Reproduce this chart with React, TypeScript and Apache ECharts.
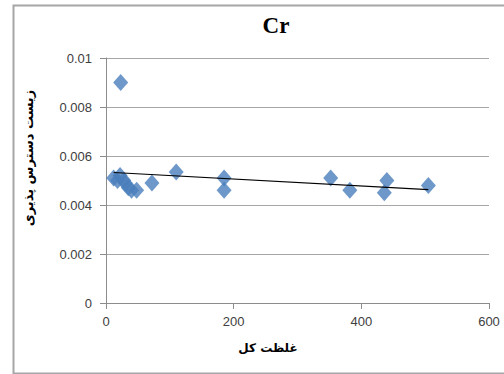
import React, { useEffect, useRef } from "react";
import * as echarts from "echarts";

const titleText = "Cr";
const xAxisName = "غلظت کل";
const yAxisName = "زیست دسترس پذیری";

const xValues = [12, 18, 22, 28, 30, 35, 40, 48, 72, 110, 185, 185, 352, 382, 436, 440, 505, 23];
const yValues = [0.0051, 0.0050, 0.0052, 0.0050, 0.0049, 0.0047, 0.0046, 0.0046, 0.0049, 0.00535, 0.0051, 0.0046, 0.0051, 0.0046, 0.0045, 0.0050, 0.0048, 0.0090];

const xTicks = [0, 200, 400, 600];
const yTicks = [0, 0.002, 0.004, 0.006, 0.008, 0.01];

function regression(xs: number[], ys: number[]) {
  const n = xs.length;
  const mx = xs.reduce((a, b) => a + b, 0) / n;
  const my = ys.reduce((a, b) => a + b, 0) / n;
  let sxy = 0;
  let sxx = 0;
  for (let i = 0; i < n; i++) {
    sxy += (xs[i] - mx) * (ys[i] - my);
    sxx += (xs[i] - mx) * (xs[i] - mx);
  }
  const slope = sxy / sxx;
  return { slope, intercept: my - slope * mx };
}

export default function App() {
  const ref = useRef<HTMLDivElement>(null);
  useEffect(() => {
    if (!ref.current) return;
    const chart = echarts.init(ref.current, null, { renderer: "svg" });
    const { slope, intercept } = regression(xValues, yValues);
    const xmin = Math.min(...xValues);
    const xmax = Math.max(...xValues);
    const trend = [
      [xmin, intercept + slope * xmin],
      [xmax, intercept + slope * xmax],
    ];
    chart.setOption({
      animation: false,
      backgroundColor: "#ffffff",
      title: {
        text: titleText,
        left: 271,
        top: 9,
        textAlign: "center",
        textStyle: { fontFamily: "Liberation Serif", fontWeight: "bold", fontSize: 23, color: "#000" },
      },
      graphic: [
        {
          type: "rect",
          left: 11,
          top: 3,
          shape: { x: 0, y: 0, width: 500, height: 368 },
          style: { fill: "none", stroke: "#a6a6a6", lineWidth: 2 },
          silent: true,
          z: 100,
        },
        {
          type: "text",
          x: 28,
          y: 158,
          rotation: Math.PI / 2,
          style: {
            text: yAxisName,
            fontFamily: "DejaVu Sans",
            fontWeight: "bold",
            fontSize: 13,
            fill: "#000",
            align: "center",
            verticalAlign: "middle",
          },
        },
        {
          type: "text",
          x: 268,
          y: 348,
          style: {
            text: xAxisName,
            fontFamily: "DejaVu Sans",
            fontWeight: "bold",
            fontSize: 12,
            fill: "#000",
            align: "center",
            verticalAlign: "middle",
          },
        },
      ],
      grid: { left: 106, right: 15, top: 58, bottom: 71 },
      xAxis: {
        type: "value",
        min: xTicks[0],
        max: xTicks[xTicks.length - 1],
        interval: 200,
        axisLine: { show: true, lineStyle: { color: "#8c8c8c" } },
        axisTick: { show: true, length: 6, inside: false, lineStyle: { color: "#8c8c8c" } },
        axisLabel: { fontFamily: "Liberation Sans", fontSize: 13, color: "#404040", margin: 12 },
        splitLine: { show: false },
      },
      yAxis: {
        type: "value",
        min: yTicks[0],
        max: yTicks[yTicks.length - 1],
        interval: 0.002,
        axisLine: { show: true, lineStyle: { color: "#8c8c8c" } },
        axisTick: { show: true, length: 6, lineStyle: { color: "#8c8c8c" } },
        axisLabel: {
          fontFamily: "Liberation Sans",
          fontSize: 13,
          color: "#404040",
          margin: 14,
          formatter: (v: number) => String(parseFloat(v.toFixed(4))),
        },
        splitLine: { show: true, lineStyle: { color: "#a6a6a6", width: 1 } },
      },
      series: [
        {
          type: "line",
          data: trend,
          symbol: "none",
          lineStyle: { color: "#000", width: 1.2 },
          z: 3,
        },
        {
          type: "scatter",
          data: xValues.map((x, i) => [x, yValues[i]]),
          symbol: "diamond",
          symbolSize: [15, 17],
          itemStyle: { color: "#4a7ebb" },
          z: 2,
        },
      ],
    });
    return () => chart.dispose();
  }, []);
  return (
    <div
      ref={ref}
      style={{ position: "absolute", left: 0, top: 0, width: 504, height: 374 }}
    />
  );
}
